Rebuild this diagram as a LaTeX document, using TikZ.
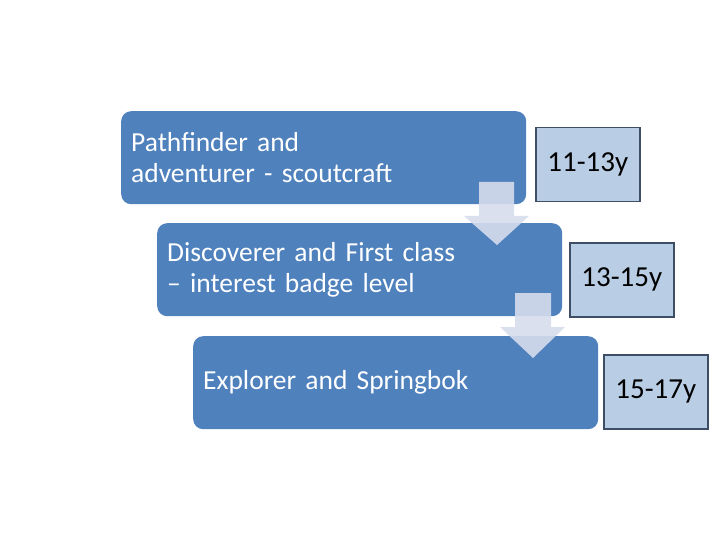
\documentclass[tikz,border=0pt]{standalone}
\usepackage{fontspec}
\setmainfont{Carlito}
\definecolor{boxblue}{RGB}{79,129,189}
\definecolor{agefill}{RGB}{185,205,229}
\definecolor{ageline}{RGB}{62,78,100}
\definecolor{arrowfill}{RGB}{214,221,236}
\begin{document}
\begin{tikzpicture}[x=1pt,y=-1pt,
  stage/.style={draw=none,fill=boxblue,rounded corners=10pt,minimum width=405pt,minimum height=93pt,
    text width=385pt,inner sep=10pt,align=left,text=white,font=\fontsize{27.5}{31}\selectfont,anchor=north west},
  agebox/.style={draw=ageline,line width=1.5pt,fill=agefill,minimum width=104pt,minimum height=74pt,
    inner sep=0pt,font=\fontsize{29}{31}\selectfont,anchor=north west},
  downarrow/.style={fill=arrowfill,fill opacity=0.9,draw=none}]
\useasboundingbox (0,0) rectangle (720,540);
\node[stage] (s1) at (121,111) {Pathfinder and\\adventurer - scoutcraft};
\node[stage] (s2) at (157,223) {Discoverer and First class\\– interest badge level};
\node[stage] (s3) at (193,336) {Explorer and Springbok};
\fill[downarrow] (479,182) -- (514,182) -- (514,216) -- (529,216) -- (497,245) -- (464,216) -- (479,216) -- cycle;
\fill[downarrow] (515,293) -- (551,293) -- (551,327) -- (565,327) -- (533,358) -- (500,327) -- (515,327) -- cycle;
\node[agebox] (a1) at (535,127) {11-13y};
\node[agebox] (a2) at (569,242) {13-15y};
\node[agebox] (a3) at (603,354) {15-17y};
\end{tikzpicture}
\end{document}
